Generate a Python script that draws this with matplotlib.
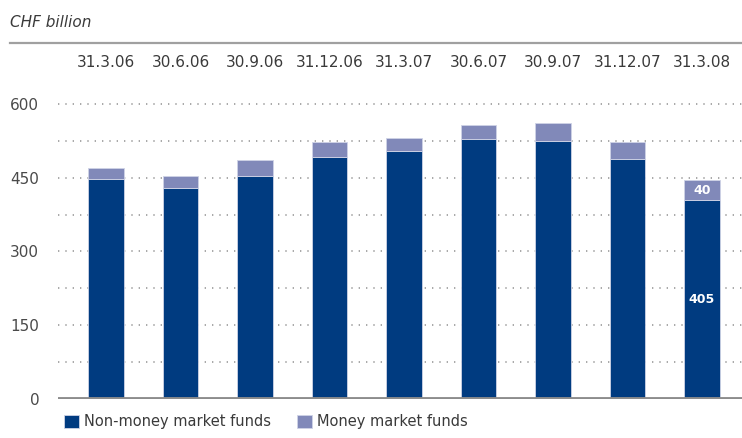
import numpy as np
from matplotlib import pyplot as plt
from matplotlib import transforms

# Invested assets by quarter end, CHF billion
dates = ['31.3.06', '30.6.06', '30.9.06', '31.12.06', '31.3.07',
         '30.6.07', '30.9.07', '31.12.07', '31.3.08']
non_money = [447, 430, 454, 492, 504, 528, 524, 488, 405]
money = [23, 24, 33, 31, 27, 29, 37, 35, 40]

dark_blue = '#003b80'
light_blue = '#8189b9'
text_grey = '#3a3a3a'

plt.rcParams['font.family'] = ['DejaVu Sans']

fig = plt.figure(dpi=100, figsize=(7.42, 4.38))
ax = fig.add_axes([0.0782, 0.089, 0.9218, 0.6905])

x = np.arange(len(dates))
width = 0.483
b1 = ax.bar(x, non_money, width, color=dark_blue, edgecolor='#cfd3e6',
            linewidth=0.6, zorder=2, label='Non-money market funds')
b2 = ax.bar(x, money, width, bottom=non_money, color=light_blue,
            edgecolor='#cfd3e6', linewidth=0.6, zorder=2,
            label='Money market funds')

# value labels on the last quarter
last = len(dates) - 1
ax.text(x[last], non_money[last] / 2, str(non_money[last]), color='white',
        ha='center', va='center', fontsize=9, fontweight='bold', zorder=3)
ax.text(x[last], non_money[last] + money[last] / 2, str(money[last]),
        color='white', ha='center', va='center', fontsize=9,
        fontweight='bold', zorder=3)

# dotted grid every 75, labels every 150
for y in range(75, 601, 75):
    ax.axhline(y, color='#999999', linewidth=1.2, linestyle=(0, (0.8, 3.6)),
               zorder=1)
ax.axhline(0, color='#8c8c8c', linewidth=3.5, zorder=3)

ax.set_xlim(-0.644, 8.537)
ax.set_ylim(0, 615)
ax.set_yticks([0, 150, 300, 450, 600])
ax.tick_params(axis='y', length=0, pad=13.5, labelsize=11, labelcolor='#4a4a4a')
ax.set_xticks([])
for s in ax.spines.values():
    s.set_visible(False)

# quarter dates along the top
trans = transforms.blended_transform_factory(ax.transData, fig.transFigure)
for xi, d in zip(x, dates):
    ax.text(xi, 0.8584, d, transform=trans, ha='center', va='center',
            fontsize=11, color=text_grey)

fig.text(10 / 742, 0.9475, 'CHF billion', fontsize=11, style='italic',
         color=text_grey, va='center', ha='left')
fig.add_artist(plt.Line2D([10 / 742, 1], [0.9018, 0.9018], color='#a0a0a0',
                          linewidth=1.6, transform=fig.transFigure))

fig.legend(handles=[b1, b2], loc='lower left',
           bbox_to_anchor=(55 / 742, 0.0), ncol=2, frameon=False,
           fontsize=10.5, handlelength=1.05, handleheight=1.05,
           handletextpad=0.35, columnspacing=1.75, borderpad=0.1,
           labelcolor=text_grey)

plt.savefig('out.png', dpi=100)
